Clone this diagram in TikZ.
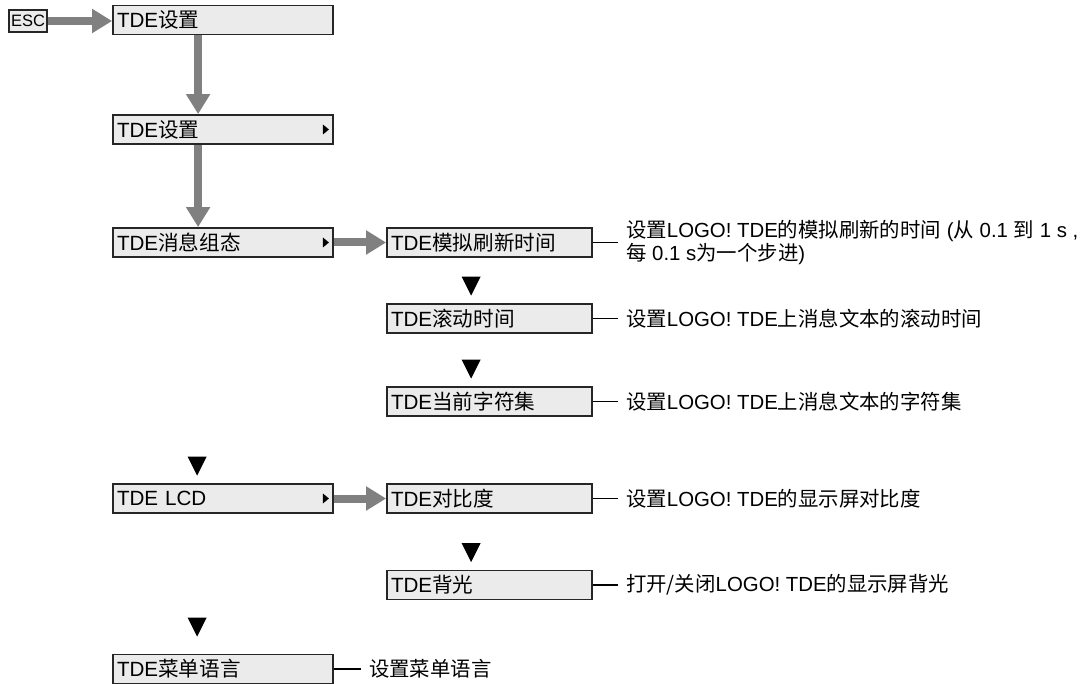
\documentclass[tikz,border=0pt]{standalone}
\usepackage{fontspec}
\setmainfont{Liberation Sans}
\newfontfamily\zhfont{Noto Sans CJK SC}
\newcommand{\zh}[1]{{\zhfont #1}}
\usetikzlibrary{positioning,arrows.meta}
\definecolor{boxgray}{HTML}{EBEBEB}
\definecolor{arrowgray}{HTML}{808080}
\begin{document}
\begin{tikzpicture}[x=1pt,y=-1pt,
  menubox/.style={draw=black!85,line width=1.8pt,fill=boxgray,inner xsep=4pt,inner ysep=0pt,
    minimum height=29pt,text width=#1,align=left,font=\fontsize{20.6}{24}\selectfont},
  menubox/.default=212pt,
  desc/.style={inner xsep=8pt,inner ysep=0pt,align=left,font=\fontsize{20.4}{23}\selectfont},
  bigarrow/.style={arrowgray,line width=8pt,-{Triangle[length=20pt,width=23pt]}},
  lead/.style={line width=1.8pt,black}]
  \useasboundingbox (0,0) rectangle (1091,684);

  \node[draw=black!85,line width=1.4pt,fill=boxgray,minimum width=38pt,minimum height=22pt,
    inner sep=0pt,font=\fontsize{16.5}{18}\selectfont] (esc) at (28,21) {ESC};
  \node[menubox] (set1) at (223,20) {TDE\zh{设置}};
  \node[menubox] (set2) at (223,129.5) {TDE\zh{设置}};
  \node[menubox] (msgcfg) at (223,242.5) {TDE\zh{消息组态}};
  \node[menubox] (lcd) at (223,498.5) {TDE LCD};
  \node[menubox] (menulang) at (223,669) {TDE\zh{菜单语言}};
  \node[menubox=197pt] (refresh) at (489.5,242.5) {TDE\zh{模拟刷新时间}};
  \node[menubox=197pt] (scroll) at (489.5,318.5) {TDE\zh{滚动时间}};
  \node[menubox=197pt] (charset) at (489.5,401.5) {TDE\zh{当前字符集}};
  \node[menubox=197pt] (contrast) at (489.5,498.5) {TDE\zh{对比度}};
  \node[menubox=197pt] (backlight) at (489.5,585) {TDE\zh{背光}};

  \draw[bigarrow] (esc.east) -- (esc.east -| set1.west);
  \draw[bigarrow] ([xshift=86pt]set1.south west) -- ([xshift=86pt]set2.north west);
  \draw[bigarrow] ([xshift=86pt]set2.south west) -- ([xshift=86pt]msgcfg.north west);
  \draw[bigarrow] (msgcfg) -- (refresh);
  \draw[bigarrow] (lcd) -- (contrast);

  \foreach \b in {set2,msgcfg,lcd}
    \fill ([xshift=-5pt]\b.east) -- ++(-6,-5) -- ++(0,10) -- cycle;
  \foreach \b/\gap in {scroll/7.5,charset/7.5,lcd/7.5,backlight/7.5,menulang/17}
    \fill ([xshift=85pt,yshift=\gap pt]\b.north west) -- ++(-9.5,-19) -- ++(19,0) -- cycle;

  \node[desc,right=25pt of refresh] (refreshtxt)
    {\zh{设置}LOGO! TDE\zh{的模拟刷新的时间} (\zh{从} 0.1 \zh{到} 1 s ,\\\zh{每} 0.1 s\zh{为一个步进})};
  \node[desc,right=25pt of scroll] (scrolltxt) {\zh{设置}LOGO! TDE\zh{上消息文本的滚动时间}};
  \node[desc,right=25pt of charset] (charsettxt) {\zh{设置}LOGO! TDE\zh{上消息文本的字符集}};
  \node[desc,right=25pt of contrast] (contrasttxt) {\zh{设置}LOGO! TDE\zh{的显示屏对比度}};
  \node[desc,right=25pt of backlight] (backlighttxt) {\zh{打开/关闭}LOGO! TDE\zh{的显示屏背光}};
  \node[desc,right=27pt of menulang] (menulangtxt) {\zh{设置菜单语言}};
  \foreach \b in {refresh,scroll,charset,contrast,backlight,menulang}
    \draw[lead] (\b) -- (\b txt);
\end{tikzpicture}
\end{document}
